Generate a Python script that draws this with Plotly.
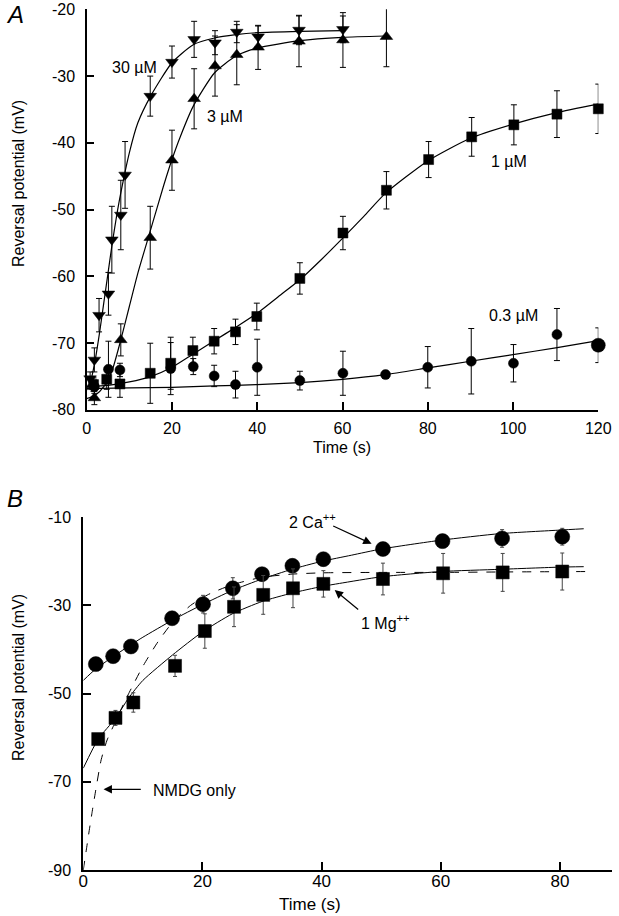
import plotly.graph_objects as go

# ---------------- Panel A data ----------------
t30 = [0.8, 1.8, 2.9, 5.1, 5.9, 8.0, 9.0, 14.9, 20.0, 25.2, 30.1, 35.2, 40.2, 49.8, 60.1]
v30 = [-75.3, -72.5, -65.8, -62.6, -54.5, -50.8, -44.8, -33.0, -27.9, -24.5, -25.0, -23.4, -24.1, -23.1, -23.0]
e30 = [1.0, 1.8, 2.5, 3.2, 5.0, 5.2, 5.0, 3.0, 2.4, 2.7, 1.8, 1.6, 1.6, 2.2, 2.0]

t3 = [1.8, 8.0, 14.9, 20.0, 25.2, 30.1, 35.2, 40.2, 49.8, 60.1, 70.3]
v3 = [-78.2, -69.5, -54.2, -42.6, -33.4, -28.5, -26.8, -25.7, -24.8, -24.6, -24.1]
e3 = [1.0, 2.4, 4.7, 4.5, 4.5, 4.5, 4.5, 3.3, 3.8, 4.1, 4.5]

t1 = [1.6, 4.7, 7.8, 14.9, 19.7, 24.9, 29.9, 34.9, 39.9, 50.0, 60.1, 70.3, 80.2, 90.3, 100.2, 110.3, 120.0]
v1 = [-76.2, -75.4, -76.1, -74.5, -73.0, -71.1, -69.7, -68.3, -66.0, -60.3, -53.5, -47.1, -42.5, -39.1, -37.3, -35.7, -34.9]
e1 = [1.0, 1.5, 2.0, 4.5, 3.9, 2.0, 1.9, 1.9, 2.0, 2.35, 2.5, 2.8, 2.7, 2.9, 3.0, 3.5, 3.7]

t03 = [1.8, 5.1, 7.8, 19.7, 25.0, 29.9, 34.9, 40.0, 50.0, 60.1, 70.1, 80.0, 90.2, 100.1, 110.3, 120.0]
v03 = [-76.5, -73.9, -74.0, -73.8, -73.5, -74.9, -76.2, -73.6, -75.6, -74.5, -74.7, -73.6, -72.7, -73.0, -68.7, -70.3]
e03 = [1.0, 4.2, 1.0, 3.9, 1.2, 1.6, 2.0, 4.2, 1.4, 3.3, 0.5, 3.1, 4.9, 2.8, 3.9, 2.6]

# fitted curves
ft30 = [0, 1, 2, 3, 4, 5, 6, 7, 8, 10, 12, 15, 20, 25, 30, 35, 40, 50, 60]
fv30 = [-77, -75.5, -72.5, -68.5, -64, -59.5, -55, -51, -47.5, -41.5, -37, -33, -28, -25.3, -24.3, -23.8, -23.5, -23.3, -23.2]
ft3 = [0, 2, 4, 6, 8, 10, 12, 15, 18, 20, 22, 25, 30, 35, 40, 50, 60, 70]
fv3 = [-78.3, -77.8, -76.5, -74, -69.5, -64.5, -59.5, -53, -46.5, -42.5, -39, -34.5, -29.5, -27, -25.8, -24.7, -24.2, -24.0]
ft1 = [0, 5, 10, 15, 20, 25, 30, 35, 40, 45, 50, 55, 60, 65, 70, 80, 90, 100, 110, 120]
fv1 = [-76.5, -76.3, -75.8, -75.0, -73.6, -71.6, -69.6, -67.6, -65.5, -63, -60.5, -57.5, -54.3, -51, -47.6, -42.7, -39.3, -37.2, -35.5, -34.2]
ft03 = [0, 10, 20, 30, 40, 50, 60, 70, 80, 90, 100, 110, 120]
fv03 = [-76.8, -76.7, -76.6, -76.4, -76.2, -75.9, -75.4, -74.7, -73.7, -72.7, -71.7, -70.7, -69.6]

# ---------------- Panel B data ----------------
tca = [2.1, 5.0, 8.0, 14.9, 20.1, 25.1, 30.0, 35.1, 40.3, 50.3, 60.3, 70.3, 80.4]
vca = [-43.3, -41.5, -39.3, -32.9, -29.7, -26.1, -22.9, -21.0, -19.5, -17.2, -15.4, -14.8, -14.4]
eca = [0, 0, 0, 0, 2.0, 2.4, 1.5, 1.5, 1.5, 0, 1.5, 2.0, 1.9]

tmg = [2.5, 5.4, 8.4, 15.4, 20.4, 25.3, 30.2, 35.2, 40.3, 50.3, 60.4, 70.4, 80.4]
vmg = [-60.3, -55.5, -52.0, -43.7, -35.8, -30.3, -27.6, -26.1, -25.1, -24.0, -22.7, -22.5, -22.3]
emg = [0, 1.7, 2.2, 2.4, 3.9, 4.5, 4.4, 4.4, 3.0, 3.6, 4.5, 4.3, 4.2]

fca_t = [0, 2, 5, 8, 10, 15, 20, 25, 30, 35, 40, 45, 50, 60, 70, 80, 84]
fca_v = [-47, -44.5, -41.6, -38.9, -37.2, -33.3, -29.8, -26.6, -24.0, -21.8, -20.0, -18.6, -17.2, -15.2, -13.7, -12.9, -12.6]
fmg_t = [0, 2.5, 5.4, 7.6, 10, 15, 20, 25, 30, 35, 40, 43, 50, 60, 70, 80, 84]
fmg_v = [-66.9, -60.3, -55.6, -51.0, -47.0, -41.2, -36.0, -31.9, -29.1, -27.2, -25.7, -25.0, -23.5, -22.3, -21.8, -21.3, -21.2]
fn_t = [0, 0.5, 1, 1.5, 2, 3, 4, 5, 6, 7.5, 10, 12.5, 15, 18, 21, 25, 30, 35, 40, 50, 60, 70, 85]
fn_v = [-90, -85.5, -81, -76.7, -72.6, -65, -60.5, -57.5, -54.5, -50.3, -43.8, -38.3, -33.8, -30.0, -27.5, -25.3, -23.6, -22.9, -22.6, -22.5, -22.5, -22.4, -22.3]

# tick values
xticksA = [0, 20, 40, 60, 80, 100, 120]
yticksA = [-80, -70, -60, -50, -40, -30, -20]
xticksB = [0, 20, 40, 60, 80]
yticksB = [-90, -70, -50, -30, -10]

W, H = 619, 916
FONT = "Liberation Sans, Arial, Helvetica, sans-serif"

def px_x(x):
    return x / W

def px_y(y):
    return 1 - y / H

fig = go.Figure()

def curve(x, y, xa, ya, dash="solid", width=1.2):
    fig.add_trace(go.Scatter(x=x, y=y, mode="lines", xaxis=xa, yaxis=ya,
                             line=dict(color="black", width=width, dash=dash, shape="spline", smoothing=0.6),
                             hoverinfo="skip", showlegend=False))

def pts(x, y, e, sym, size, xa, ya, ecol="black", ew=3):
    fig.add_trace(go.Scatter(x=x, y=y, mode="markers", xaxis=xa, yaxis=ya,
                             marker=dict(symbol=sym, size=size, color="black", opacity=1,
                                         line=dict(width=0.5, color="black")),
                             error_y=dict(type="data", array=e, visible=True, color=ecol, thickness=1, width=ew),
                             cliponaxis=False, showlegend=False))

# Panel A
curve(ft30, fv30, "x", "y")
curve(ft3, fv3, "x", "y")
curve(ft1, fv1, "x", "y")
curve(ft03, fv03, "x", "y")
pts(t30, v30, e30, "triangle-down", 11, "x", "y")
pts(t3, v3, e3, "triangle-up", 11, "x", "y")
pts(t1, v1, e1, "square", 10, "x", "y")
pts(t03, v03, e03, "circle", [10] * (len(t03) - 1) + [14], "x", "y")

# Panel B
curve(fca_t, fca_v, "x2", "y2", width=1)
curve(fmg_t, fmg_v, "x2", "y2", width=1)
curve(fn_t, fn_v, "x2", "y2", dash="dash", width=1)
pts(tca, vca, eca, "circle", 15, "x2", "y2", ecol="#444", ew=2)
pts(tmg, vmg, emg, "square", 13, "x2", "y2", ecol="#444", ew=2)

axis_common = dict(showline=True, linecolor="black", linewidth=1.5, ticks="inside", ticklen=8,
                   tickcolor="black", tickwidth=1.5, showgrid=False, zeroline=False,
                   mirror=False, color="black", automargin=False)

fig.update_layout(
    width=W, height=H, autosize=False,
    margin=dict(l=0, r=0, t=0, b=0, pad=0, autoexpand=False),
    paper_bgcolor="white", plot_bgcolor="white",
    font=dict(family=FONT, color="black", size=16),
    xaxis=dict(domain=[px_x(86.7), px_x(598.3)], range=[0, 120], anchor="y",
               tickvals=xticksA, tickfont=dict(size=16),
               ticklabelstandoff=3, **axis_common),
    yaxis=dict(domain=[px_y(410), px_y(9.3)], range=[-80, -20], anchor="x",
               tickvals=yticksA, showticklabels=False, **axis_common),
    xaxis2=dict(domain=[px_x(83.3), px_x(612.3)], range=[0, 88.8], anchor="y2",
                tickvals=xticksB + [88.8], ticktext=[str(v) for v in xticksB] + [""],
                tickfont=dict(size=17), ticklabelstandoff=-5, **axis_common),
    yaxis2=dict(domain=[px_y(870), px_y(517.3)], range=[-90, -10], anchor="x2",
                tickvals=yticksB, showticklabels=False, **axis_common),
)

ann = []
def txt(text, x, y, size=16, xref="paper", yref="paper", angle=0, italic=False, xanchor="center"):
    ann.append(dict(text=text, x=x, y=y, xref=xref, yref=yref, showarrow=False,
                    textangle=angle, font=dict(size=size, family=FONT, color="black",
                                              style="italic" if italic else "normal"),
                    xanchor=xanchor, yanchor="middle"))

# y tick labels placed on the y axes' own scale
for v in yticksA:
    txt(str(v), px_x(77), v, size=16, yref="y", xanchor="right")
for v in yticksB:
    txt(str(v), px_x(73), v, size=16, yref="y2", xanchor="right")

# axis titles & panel letters
txt("Reversal potential (mV)", px_x(18), px_y(184), angle=-90)
txt("Time (s)", px_x(342), px_y(447))
txt("Reversal potential (mV)", px_x(18), px_y(678), angle=-90)
txt("Time (s)", px_x(310), px_y(904), size=17)
txt("A", px_x(15), px_y(15), size=24, italic=True)
txt("B", px_x(15), px_y(499), size=24, italic=True)

# panel A concentration labels
txt("30 \u00b5M", 11.3, -28.7, xref="x", yref="y")
txt("3 \u00b5M", 32.5, -36.1, xref="x", yref="y")
txt("1 \u00b5M", 99.0, -42.8, xref="x", yref="y")
txt("0.3 \u00b5M", 100.2, -65.8, xref="x", yref="y")

# panel B labels with arrows
txt("2 Ca<sup>++</sup>", 38.5, -10.9, xref="x2", yref="y2")
txt("1 Mg<sup>++</sup>", 50.8, -33.7, xref="x2", yref="y2")
txt("NMDG only", 18.6, -71.9, xref="x2", yref="y2")

def arrow(x0, y0, x1, y1):
    ann.append(dict(x=x1, y=y1, ax=x0, ay=y0, xref="x2", yref="y2", axref="x2", ayref="y2",
                    showarrow=True, arrowhead=2, arrowsize=1.4, arrowwidth=1.2,
                    arrowcolor="black", text=""))

arrow(41.7, -11.8, 48.4, -16.0)
arrow(46.4, -31.2, 42.2, -26.5)
arrow(9.9, -71.7, 3.4, -71.7)

fig.update_layout(annotations=ann)
fig.write_html("out.html", config={"displayModeBar": False},
               post_script="document.body.style.margin='0px';document.body.style.overflow='hidden';")
